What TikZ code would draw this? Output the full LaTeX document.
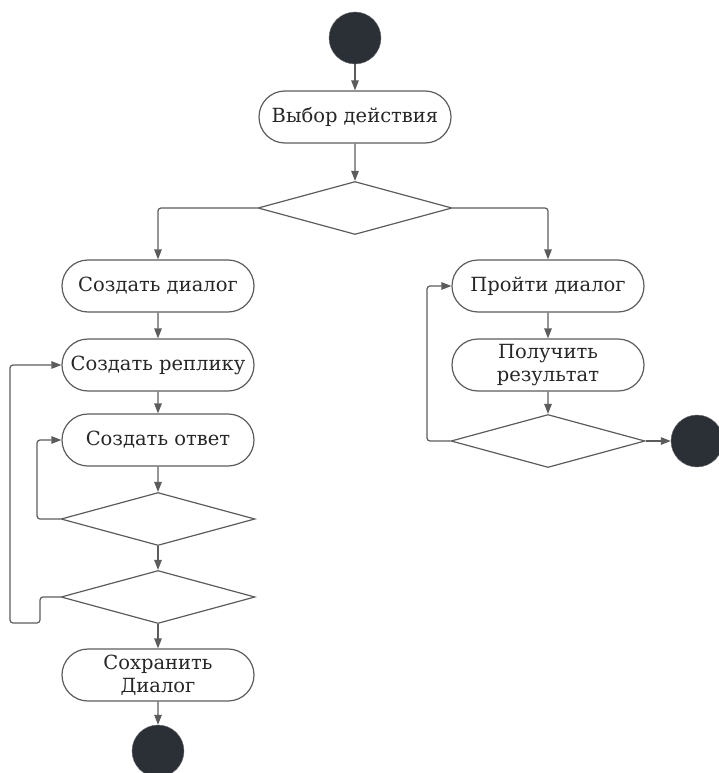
\documentclass[tikz,border=0pt]{standalone}
\usepackage{fontspec}
\setmainfont{DejaVu Serif}
\usetikzlibrary{shapes.geometric,shapes.misc,arrows.meta}
\definecolor{linegray}{HTML}{5C5C5C}
\definecolor{dotfill}{HTML}{2B2F36}
\begin{document}
\begin{tikzpicture}[x=1pt,y=-1pt,
    act/.style={rounded rectangle,draw=linegray,line width=1.2pt,minimum width=194pt,
      minimum height=52pt,inner sep=1pt,align=center,text=black!85,
      font=\fontsize{19.5}{23}\selectfont},
    dec/.style={diamond,draw=linegray,line width=1.2pt,minimum width=194pt,
      minimum height=53pt,inner sep=0pt},
    dot/.style={circle,fill=dotfill,draw=dotfill!70,minimum size=52pt,inner sep=0pt}]
  \useasboundingbox (0,0) rectangle (718,773);
  \draw
    (355,38) node[dot] (start){}
    (355,117) node[act] (pick){Выбор действия}
    (355,208) node[dec] (branch){}
    (158,286) node[act] (mkdlg){Создать диалог}
    (158,365) node[act] (mkrep){Создать реплику}
    (158,440) node[act] (mkans){Создать ответ}
    (158,519) node[dec] (moreans){}
    (158,597) node[dec] (morerep){}
    (158,675) node[act] (save){Сохранить\\Диалог}
    (158,751) node[dot] (stopa){}
    (548,286) node[act] (walk){Пройти диалог}
    (548,365) node[act] (result){Получить\\результат}
    (548,441) node[dec] (again){}
    (697,441) node[dot] (stopb){};
  \begin{scope}[draw=linegray,line width=1.2pt,-{Triangle[length=10pt,width=7.5pt]},rounded corners=3pt]
    \draw (start) to (pick);
    \draw (pick) to (branch);
    \draw (branch.west) -| (mkdlg.north);
    \draw (branch.east) -| (walk.north);
    \draw (mkdlg) to (mkrep);
    \draw (mkrep) to (mkans);
    \draw (mkans) to (moreans);
    \draw (moreans) to (morerep);
    \draw (morerep) to (save);
    \draw (save) to (stopa);
    \draw (moreans.west) -- (37,519) |- (mkans.west);
    \draw (morerep.west) -- (40,597) -- (40,623) -- (10,623) |- (mkrep.west);
    \draw (walk) to (result);
    \draw (result) to (again);
    \draw (again) to (stopb);
    \draw (again.west) -- (427,441) |- (walk.west);
  \end{scope}
\end{tikzpicture}
\end{document}
